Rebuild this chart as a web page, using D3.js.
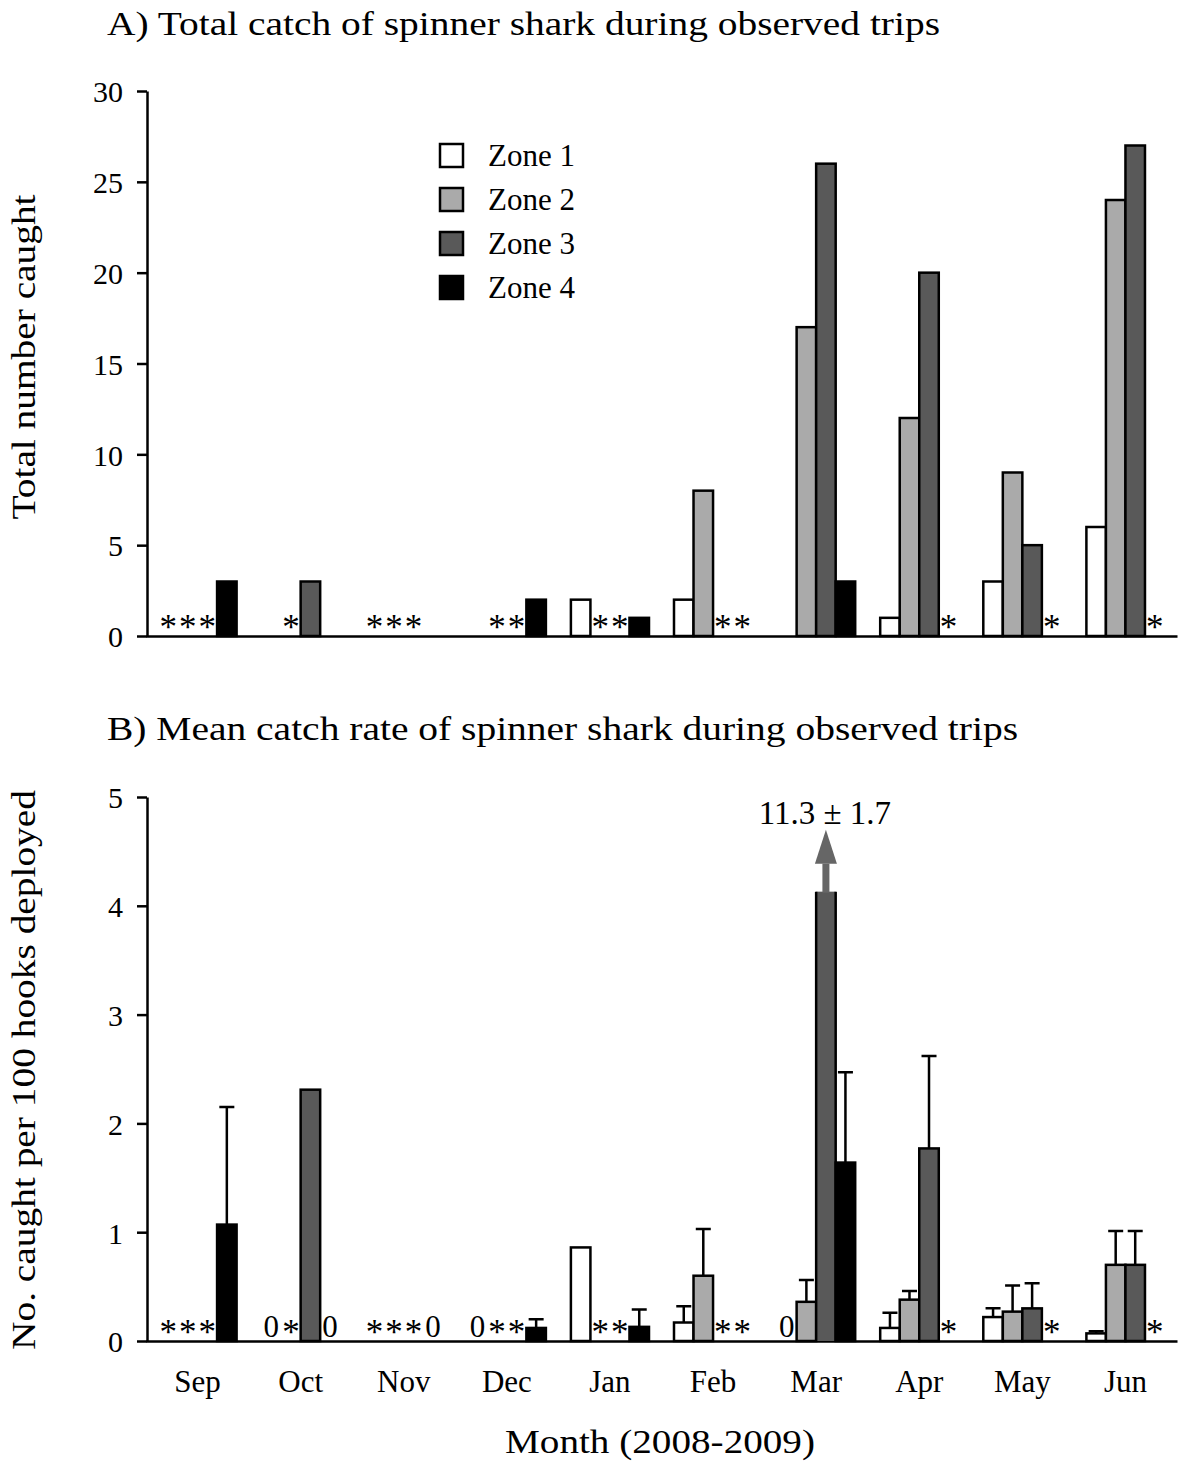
<!DOCTYPE html>
<html>
<head>
<meta charset="utf-8">
<script src="https://cdn.jsdelivr.net/npm/d3@7"></script>
<style>
  body { margin: 0; background: #fff; }
  svg { display: block; }
</style>
</head>
<body>
<svg id="chart" width="1179" height="1465"></svg>
<script>
// Months of the observer programme (Sep 2008 - Jun 2009)
const months = ["Sep", "Oct", "Nov", "Dec", "Jan", "Feb", "Mar", "Apr", "May", "Jun"];
const zones = ["Zone 1", "Zone 2", "Zone 3", "Zone 4"];

// A) total spinner shark caught; "*" = zone not fished that month
const totalZone1 = ["*", 0, "*", 0, 2, 2, 0, 1, 3, 6];
const totalZone2 = ["*", "*", "*", "*", "*", 8, 17, 12, 9, 24];
const totalZone3 = ["*", 3, "*", "*", "*", "*", 26, 20, 5, 27];
const totalZone4 = [3, 0, 0, 2, 1, "*", 3, "*", "*", "*"];

// B) mean catch per 100 hooks and its standard error
const rateZone1 = ["*", 0, "*", 0, 0.86, 0.17, 0, 0.12, 0.22, 0.07];
const rateZone2 = ["*", "*", "*", "*", "*", 0.6, 0.36, 0.38, 0.27, 0.7];
const rateZone3 = ["*", 2.31, "*", "*", "*", "*", 11.3, 1.77, 0.3, 0.7];
const rateZone4 = [1.07, 0, 0, 0.12, 0.13, "*", 1.64, "*", "*", "*"];
const seZone1 = [null, null, null, null, null, 0.15, null, 0.14, 0.08, 0.02];
const seZone2 = [null, null, null, null, null, 0.43, 0.2, 0.08, 0.24, 0.31];
const seZone3 = [null, null, null, null, null, null, 1.7, 0.85, 0.23, 0.31];
const seZone4 = [1.08, null, null, 0.08, 0.16, null, 0.83, null, null, null];

const totalTicks = [0, 5, 10, 15, 20, 25, 30];
const rateTicks = [0, 1, 2, 3, 4, 5];
// rates above this level are cut off, shown with an arrow and printed value
const rateBreak = 4.13;

const zoneFill = ["#ffffff", "#aaaaaa", "#595959", "#000000"];
const FONT = '"Liberation Serif", "Times New Roman", serif';

const totals = [totalZone1, totalZone2, totalZone3, totalZone4];
const rates = [rateZone1, rateZone2, rateZone3, rateZone4];
const ses = [seZone1, seZone2, seZone3, seZone4];

const svg = d3.select("#chart");

const x = d3.scaleBand().domain(months).range([146, 1177]).padding(0);
const xz = d3.scaleBand().domain(zones).range([0, x.bandwidth()])
  .paddingInner(0).paddingOuter(0.64);

const yA = d3.scaleLinear().domain([0, 30]).range([636, 91]);
const yB = d3.scaleLinear().domain([0, 5]).range([1341, 797]);

function font(sel, size) {
  return sel.style("font-family", FONT).style("font-size", size + "px").style("fill", "#000");
}

function cells(valueArrays, seArrays) {
  const out = [];
  months.forEach((m, i) => {
    zones.forEach((z, j) => {
      out.push({
        month: m, zone: z, zi: j,
        value: valueArrays[j][i],
        se: seArrays ? seArrays[j][i] : null
      });
    });
  });
  return out;
}

function drawAxes(y, ticks, axisY) {
  const g = svg.append("g");
  const ax = g.append("g")
    .attr("transform", "translate(147,0)")
    .call(d3.axisLeft(y).tickValues(ticks).tickFormat(d3.format("d"))
      .tickSize(10).tickSizeOuter(0).tickPadding(14));
  ax.select(".domain").attr("stroke-width", 2.5).attr("stroke", "#000");
  ax.selectAll(".tick line").attr("stroke-width", 2.5).attr("stroke", "#000");
  font(ax.selectAll(".tick text"), 30).attr("dy", "0.36em");

  const bx = g.append("g")
    .attr("transform", `translate(0,${axisY})`)
    .call(d3.axisBottom(x).tickSize(0).tickSizeOuter(0).tickFormat(""));
  bx.select(".domain").attr("stroke-width", 2.5).attr("stroke", "#000");
  return bx;
}

function drawPanel(data, y, opts) {
  const g = svg.append("g");
  const bx = d => x(d.month) + xz(d.zone);
  const bw = xz.bandwidth();
  const axisY = y(0);

  const bars = data.filter(d => typeof d.value === "number" && d.value > 0);
  const isBroken = d => opts.cap != null && d.value > opts.cap;
  const shown = d => isBroken(d) ? opts.cap : d.value;

  g.selectAll("rect.bar").data(bars).join("rect")
    .attr("class", "bar")
    .attr("x", d => bx(d))
    .attr("y", d => y(shown(d)))
    .attr("width", bw)
    .attr("height", d => axisY - y(shown(d)))
    .attr("fill", d => zoneFill[d.zi])
    .attr("stroke", d => isBroken(d) ? "none" : "#000")
    .attr("stroke-width", 2.5);

  // broken bar: sides only, open top, arrow and printed value
  bars.filter(isBroken).forEach(d => {
    const x0 = bx(d), x1 = bx(d) + bw, yt = y(opts.cap);
    g.append("path")
      .attr("d", `M${x0},${yt}V${axisY}M${x1},${yt}V${axisY}`)
      .attr("stroke", "#000").attr("stroke-width", 2.5).attr("fill", "none");
    const cx = x0 + bw / 2;
    const shaftTop = yt - 28, headTop = shaftTop - 34;
    g.append("rect")
      .attr("x", cx - 3.5).attr("y", shaftTop)
      .attr("width", 7).attr("height", yt - shaftTop + 1)
      .attr("fill", "#666");
    g.append("path")
      .attr("d", `M${cx - 11},${shaftTop}L${cx + 11},${shaftTop}L${cx},${headTop}Z`)
      .attr("fill", "#666");
    font(g.append("text"), 33)
      .attr("x", cx - 1).attr("y", headTop - 6)
      .attr("text-anchor", "middle")
      .text(`${d.value} \u00b1 ${d.se}`);
  });

  // standard error bars
  const errs = bars.filter(d => d.se != null && !isBroken(d));
  g.selectAll("path.err").data(errs).join("path")
    .attr("class", "err")
    .attr("d", d => {
      const cx = bx(d) + bw / 2, y0 = y(d.value), y1 = y(d.value + d.se);
      return `M${cx},${y0}V${y1}M${cx - 7.5},${y1}H${cx + 7.5}`;
    })
    .attr("stroke", "#000").attr("stroke-width", 2.5).attr("fill", "none");

  // markers: "*" for unfished zones, "0" where fished with no catch
  const marks = data.filter(d => d.value === "*" || (opts.zeroLabels && d.value === 0));
  g.selectAll("text.mark").data(marks).join("text")
    .attr("class", "mark")
    .attr("x", d => bx(d) + bw / 2)
    .attr("y", d => d.value === "*" ? axisY + 3 : axisY - 4)
    .attr("text-anchor", "middle")
    .style("font-family", FONT).style("fill", "#000")
    .style("font-size", d => d.value === "*" ? "35px" : "31px")
    .text(d => d.value === "*" ? "*" : "0");
}

// ---- Panel A ----
drawAxes(yA, totalTicks, yA(0));
drawPanel(cells(totals, null), yA, { cap: null, zeroLabels: false });

font(svg.append("text"), 33)
  .attr("x", 107).attr("y", 35)
  .attr("textLength", 833).attr("lengthAdjust", "spacingAndGlyphs")
  .text("A) Total catch of spinner shark during observed trips");

font(svg.append("text"), 33)
  .attr("transform", "translate(35,357) rotate(-90)")
  .attr("text-anchor", "middle")
  .attr("textLength", 325).attr("lengthAdjust", "spacingAndGlyphs")
  .text("Total number caught");

// legend
const legend = svg.append("g").attr("transform", "translate(440,144)");
const li = legend.selectAll("g").data(zones).join("g")
  .attr("transform", (d, i) => `translate(0,${i * 44})`);
li.append("rect")
  .attr("width", 23).attr("height", 23)
  .attr("fill", (d, i) => zoneFill[i])
  .attr("stroke", "#000").attr("stroke-width", 2.5);
font(li.append("text"), 31)
  .attr("x", 48).attr("y", 22)
  .text(d => d);

// ---- Panel B ----
const bxAxis = drawAxes(yB, rateTicks, yB(0));
bxAxis.call(d3.axisBottom(x).tickSize(0).tickSizeOuter(0).tickPadding(0));
bxAxis.select(".domain").attr("stroke-width", 2.5).attr("stroke", "#000");
font(bxAxis.selectAll(".tick text"), 31)
  .attr("y", 51).attr("dy", "0");

drawPanel(cells(rates, ses), yB, { cap: rateBreak, zeroLabels: true });

font(svg.append("text"), 33)
  .attr("x", 107).attr("y", 740)
  .attr("textLength", 911).attr("lengthAdjust", "spacingAndGlyphs")
  .text("B) Mean catch rate of spinner shark during observed trips");

font(svg.append("text"), 33)
  .attr("transform", "translate(35,1070) rotate(-90)")
  .attr("text-anchor", "middle")
  .attr("textLength", 560).attr("lengthAdjust", "spacingAndGlyphs")
  .text("No. caught per 100 hooks deployed");

font(svg.append("text"), 34)
  .attr("x", 660).attr("y", 1453)
  .attr("text-anchor", "middle")
  .attr("textLength", 310).attr("lengthAdjust", "spacingAndGlyphs")
  .text("Month (2008-2009)");
</script>
</body>
</html>
